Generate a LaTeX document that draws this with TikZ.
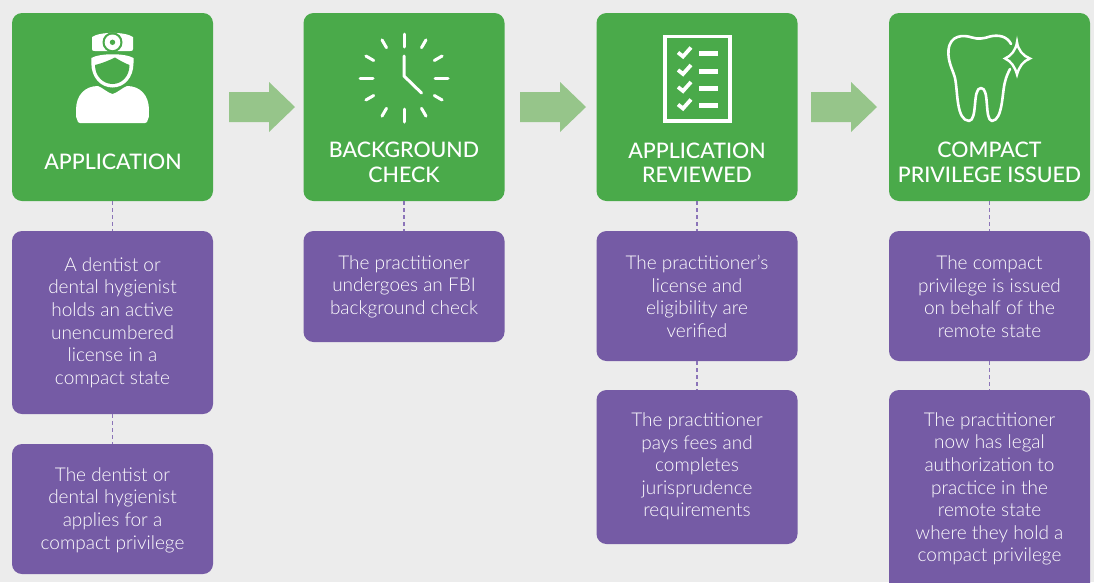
\documentclass[tikz,border=0pt]{standalone}
\usepackage{fontspec}
\setmainfont{Lato Medium}
\newfontfamily\bodyfont{Lato Light}
\definecolor{bgc}{HTML}{ECECEC}
\definecolor{greenc}{HTML}{4AAA4A}
\definecolor{purplec}{HTML}{755BA5}
\definecolor{arrowc}{HTML}{96C58A}
\definecolor{dashc}{HTML}{8B74B8}
\tikzset{
  headbox/.style={fill=greenc,rounded corners=10pt,minimum width=201pt,inner sep=0pt,outer sep=0pt},
  infobox/.style={fill=purplec,rounded corners=10pt,minimum width=201pt,inner sep=0pt,outer sep=0pt},
  headtext/.style={text=white,align=center,inner sep=0pt,font=\fontsize{21.4}{24.5}\selectfont},
  infotext/.style={text=white,align=center,inner sep=0pt,font=\bodyfont\fontsize{19}{22.6}\selectfont},
  linkline/.style={draw=dashc,line width=1.1pt,dash pattern=on 4pt off 3pt},
  flowarrow/.style={fill=arrowc},
  iconline/.style={draw=white,line width=3pt,line cap=round,line join=round},
}
\begin{document}
\begin{tikzpicture}[x=1pt,y=-1pt]
\useasboundingbox (0,0) rectangle (1094,582);
\clip (0,0) rectangle (1094,582);
\fill[bgc] (0,0) rectangle (1094,582);
% green header boxes
\node[headbox,minimum height=188pt] (g1) at (112.5,107) {};
\node[headbox,minimum height=188pt] (g2) at (404,107) {};
\node[headbox,minimum height=188pt] (g3) at (697,107) {};
\node[headbox,minimum height=188pt] (g4) at (989.5,107) {};
% purple boxes
\node[infobox,minimum height=183pt] (p1a) at (112.5,322.5) {};
\node[infobox,minimum height=130pt] (p1b) at (112.5,509) {};
\node[infobox,minimum height=111pt] (p2a) at (404,286.5) {};
\node[infobox,minimum height=130pt] (p3a) at (697,296) {};
\node[infobox,minimum height=154pt] (p3b) at (697,467) {};
\node[infobox,minimum height=130pt] (p4a) at (989.5,296) {};
\node[infobox,minimum height=210pt] (p4b) at (989.5,495) {};
% connectors
\draw[linkline] (g1.south) -- (p1a.north);
\draw[linkline] (p1a.south) -- (p1b.north);
\draw[linkline] (g2.south) -- (p2a.north);
\draw[linkline] (g3.south) -- (p3a.north);
\draw[linkline] (p3a.south) -- (p3b.north);
\draw[linkline] (g4.south) -- (p4a.north);
\draw[linkline] (p4a.south) -- (p4b.north);
% flow arrows
\foreach \ax in {229,520,811}{
  \fill[flowarrow] (\ax,92) -- ++(40,0) -- ++(0,-10) -- ++(26,25) -- ++(-26,25) -- ++(0,-10) -- ++(-40,0) -- cycle;
}
% heading text
\node[headtext] (h1) at (113,161.5) {APPLICATION};
\node[headtext] (h2) at (404,162.5) {BACKGROUND\\CHECK};
\node[headtext] (h3) at (697,162.5) {APPLICATION\\REVIEWED};
\node[headtext] (h4) at (989.5,162.5) {COMPACT\\PRIVILEGE ISSUED};
% body text
\node[infotext] (t1a) at (112.5,322.5) {A dentist or\\dental hygienist\\holds an active\\unencumbered\\license in a\\compact state};
\node[infotext] (t1b) at (112.5,510) {The dentist or\\dental hygienist\\applies for a\\compact privilege};
\node[infotext] (t2a) at (404,286.5) {The practitioner\\undergoes an FBI\\background check};
\node[infotext] (t3a) at (697,296.5) {The practitioner’s\\license and\\eligibility are\\verified};
\node[infotext] (t3b) at (697,466.5) {The practitioner\\pays fees and\\completes\\jurisprudence\\requirements};
\node[infotext] (t4a) at (989.5,296.5) {The compact\\privilege is issued\\on behalf of the\\remote state};
\node[infotext] (t4b) at (989.5,489) {The practitioner\\now has legal\\authorization to\\practice in the\\remote state\\where they hold a\\compact privilege};
% doctor icon
\fill[white] (92,37) .. controls (100,31.5) and (125,31.5) .. (133,37) -- (133,49) .. controls (135,52) and (125,51) .. (112.5,51) .. controls (100,51) and (90,52) .. (92,49) -- cycle;
\fill[greenc] (112.5,42.3) circle (10);
\fill[white] (112.5,42.3) circle (7.8);
\fill[greenc] (112.5,42.3) circle (2.7);
\fill[white] (91.3,58) .. controls (100,53) and (125,53) .. (133.5,58) -- (133.5,63) .. controls (133.5,78) and (124,87.5) .. (112.5,87.5) .. controls (101,87.5) and (91.3,78) .. (91.3,63) -- cycle;
\fill[greenc] (95,65) .. controls (103,63) and (110,60) .. (115,57.5) .. controls (119,60) and (124,63) .. (129.5,65) .. controls (129.5,76) and (122,84) .. (112.5,84) .. controls (103,84) and (95,76) .. (95,65) -- cycle;
\fill[white] (76,110) .. controls (76,95) and (85,86) .. (98,86) .. controls (103,88) and (108,93) .. (112.5,94) .. controls (117,93) and (122,88) .. (127,86) .. controls (140,86) and (149,95) .. (149,110) .. controls (149,116) and (149,119) .. (147,122) .. controls (146.5,123) and (146,123) .. (145,123) -- (80,123) .. controls (79,123) and (78.5,123) .. (78,122) .. controls (76,119) and (76,116) .. (76,110) -- cycle;
% clock icon
\foreach \ang in {0,90,180,270}{
  \draw[iconline] (404,78) ++(\ang:31) -- ++(\ang:13);
}
\foreach \ang in {30,60,120,150,210,240,300,330}{
  \draw[iconline] (404,78) ++(\ang:35) -- ++(\ang:9);
}
\draw[iconline] (404,56) -- (404,76) -- (421.5,93);
% checklist icon
\draw[white,line width=3.4pt] (665,36.3) rectangle (730,121);
\foreach \cy in {53.5,71,88,105.5}{
  \fill[white] (699,\cy-2.5) rectangle (718,\cy+2.5);
  \draw[white,line width=3.8pt] (678,\cy-1) -- (683,\cy+3) -- (691,\cy-6);
}
% tooth icon
\draw[iconline,line width=2.6pt] (1011,44) .. controls (1007,36) and (998,34.5) .. (990,36.5) .. controls (984,38.5) and (978,39.5) .. (972,37.5) .. controls (963,34.5) and (950,35) .. (948.5,50) .. controls (947.5,62) and (953,70) .. (955,78) .. controls (958,92) and (956,120) .. (969,121) .. controls (978,120) and (972,88) .. (981,88) .. controls (990,88) and (984,120) .. (992,121) .. controls (1003,120) and (1002,92) .. (1005,82) .. controls (1006,77) and (1008,73) .. (1010,69);
\draw[white,line width=2.4pt,line join=miter] (1017,42) .. controls (1018,50) and (1023,56) .. (1030,58.5) .. controls (1023,61) and (1019,67) .. (1017,74.5) .. controls (1015,67) and (1011,61) .. (1005,58.5) .. controls (1011,56) and (1016,50) .. (1017,42) -- cycle;
\end{tikzpicture}
\end{document}
